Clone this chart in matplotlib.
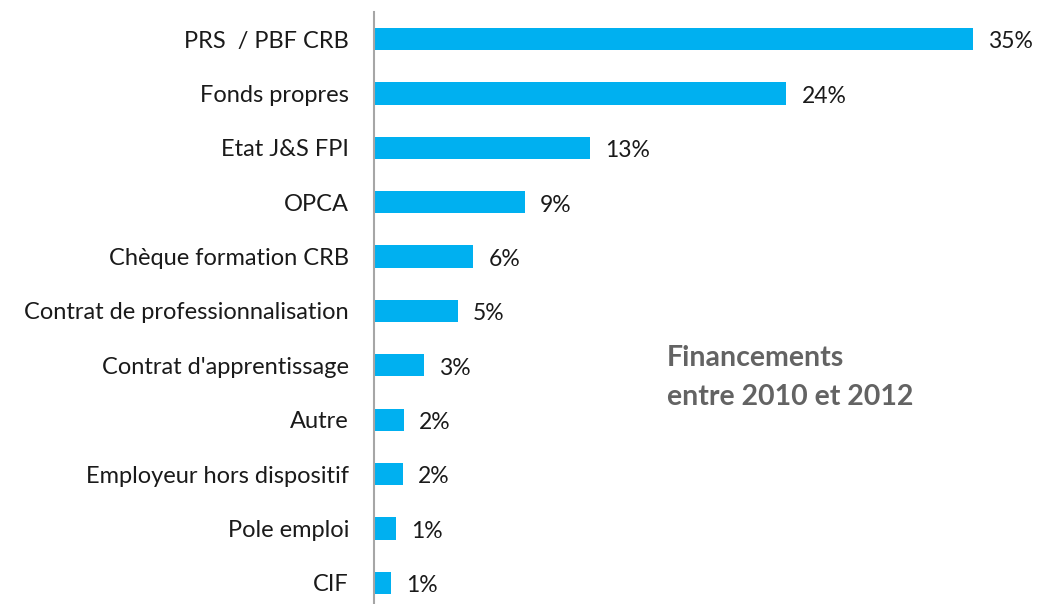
import matplotlib
matplotlib.use("Agg")
import matplotlib.pyplot as plt

categories = ["PRS  / PBF CRB", "Fonds propres", "Etat J&S FPI", "OPCA",
              "Chèque formation CRB", "Contrat de professionnalisation",
              "Contrat d'apprentissage", "Autre", "Employeur hors dispositif",
              "Pole emploi", "CIF"]
values = [35.0, 24.1, 12.6, 8.8, 5.8, 4.9, 2.9, 1.75, 1.7, 1.3, 1.0]
value_labels = ["35%", "24%", "13%", "9%", "6%", "5%", "3%", "2%", "2%", "1%", "1%"]
title_lines = ["Financements", "entre 2010 et 2012"]

plt.rcParams['font.family'] = ['Lato', 'DejaVu Sans']

W, H = 1039, 604
fig = plt.figure(figsize=(W / 100, H / 100), dpi=100)
ax = fig.add_axes([374 / W, 0, (W - 374) / W, (H - 12) / H])

pos = list(range(len(categories)))
ax.barh(pos, values, height=0.41, color="#00B0F0")
ax.set_xlim(0, 35 * (W - 374) / 599)
ax.set_ylim(10.39, -0.5)
ax.set_yticks(pos)
ax.set_yticklabels(categories, fontsize=17, color="#1a1a1a")
ax.tick_params(axis="y", length=0, pad=18)
ax.set_xticks([])
for s in ["top", "right", "bottom"]:
    ax.spines[s].set_visible(False)
ax.spines["left"].set_color("#A6A6A6")
ax.spines["left"].set_linewidth(1.5)

for p, v, lab in zip(pos, values, value_labels):
    ax.annotate(lab, (v, p), xytext=(11, -2), textcoords="offset points",
                va="center", ha="left", fontsize=16.5, color="#1a1a1a")

fig.text(667 / W, 1 - 358 / H, title_lines[0], fontsize=20.5, fontweight="bold",
         color="#636363", va="center", ha="left")
fig.text(667 / W, 1 - 397 / H, title_lines[1], fontsize=20.5, fontweight="bold",
         color="#636363", va="center", ha="left")

fig.savefig("out.png", dpi=100)
